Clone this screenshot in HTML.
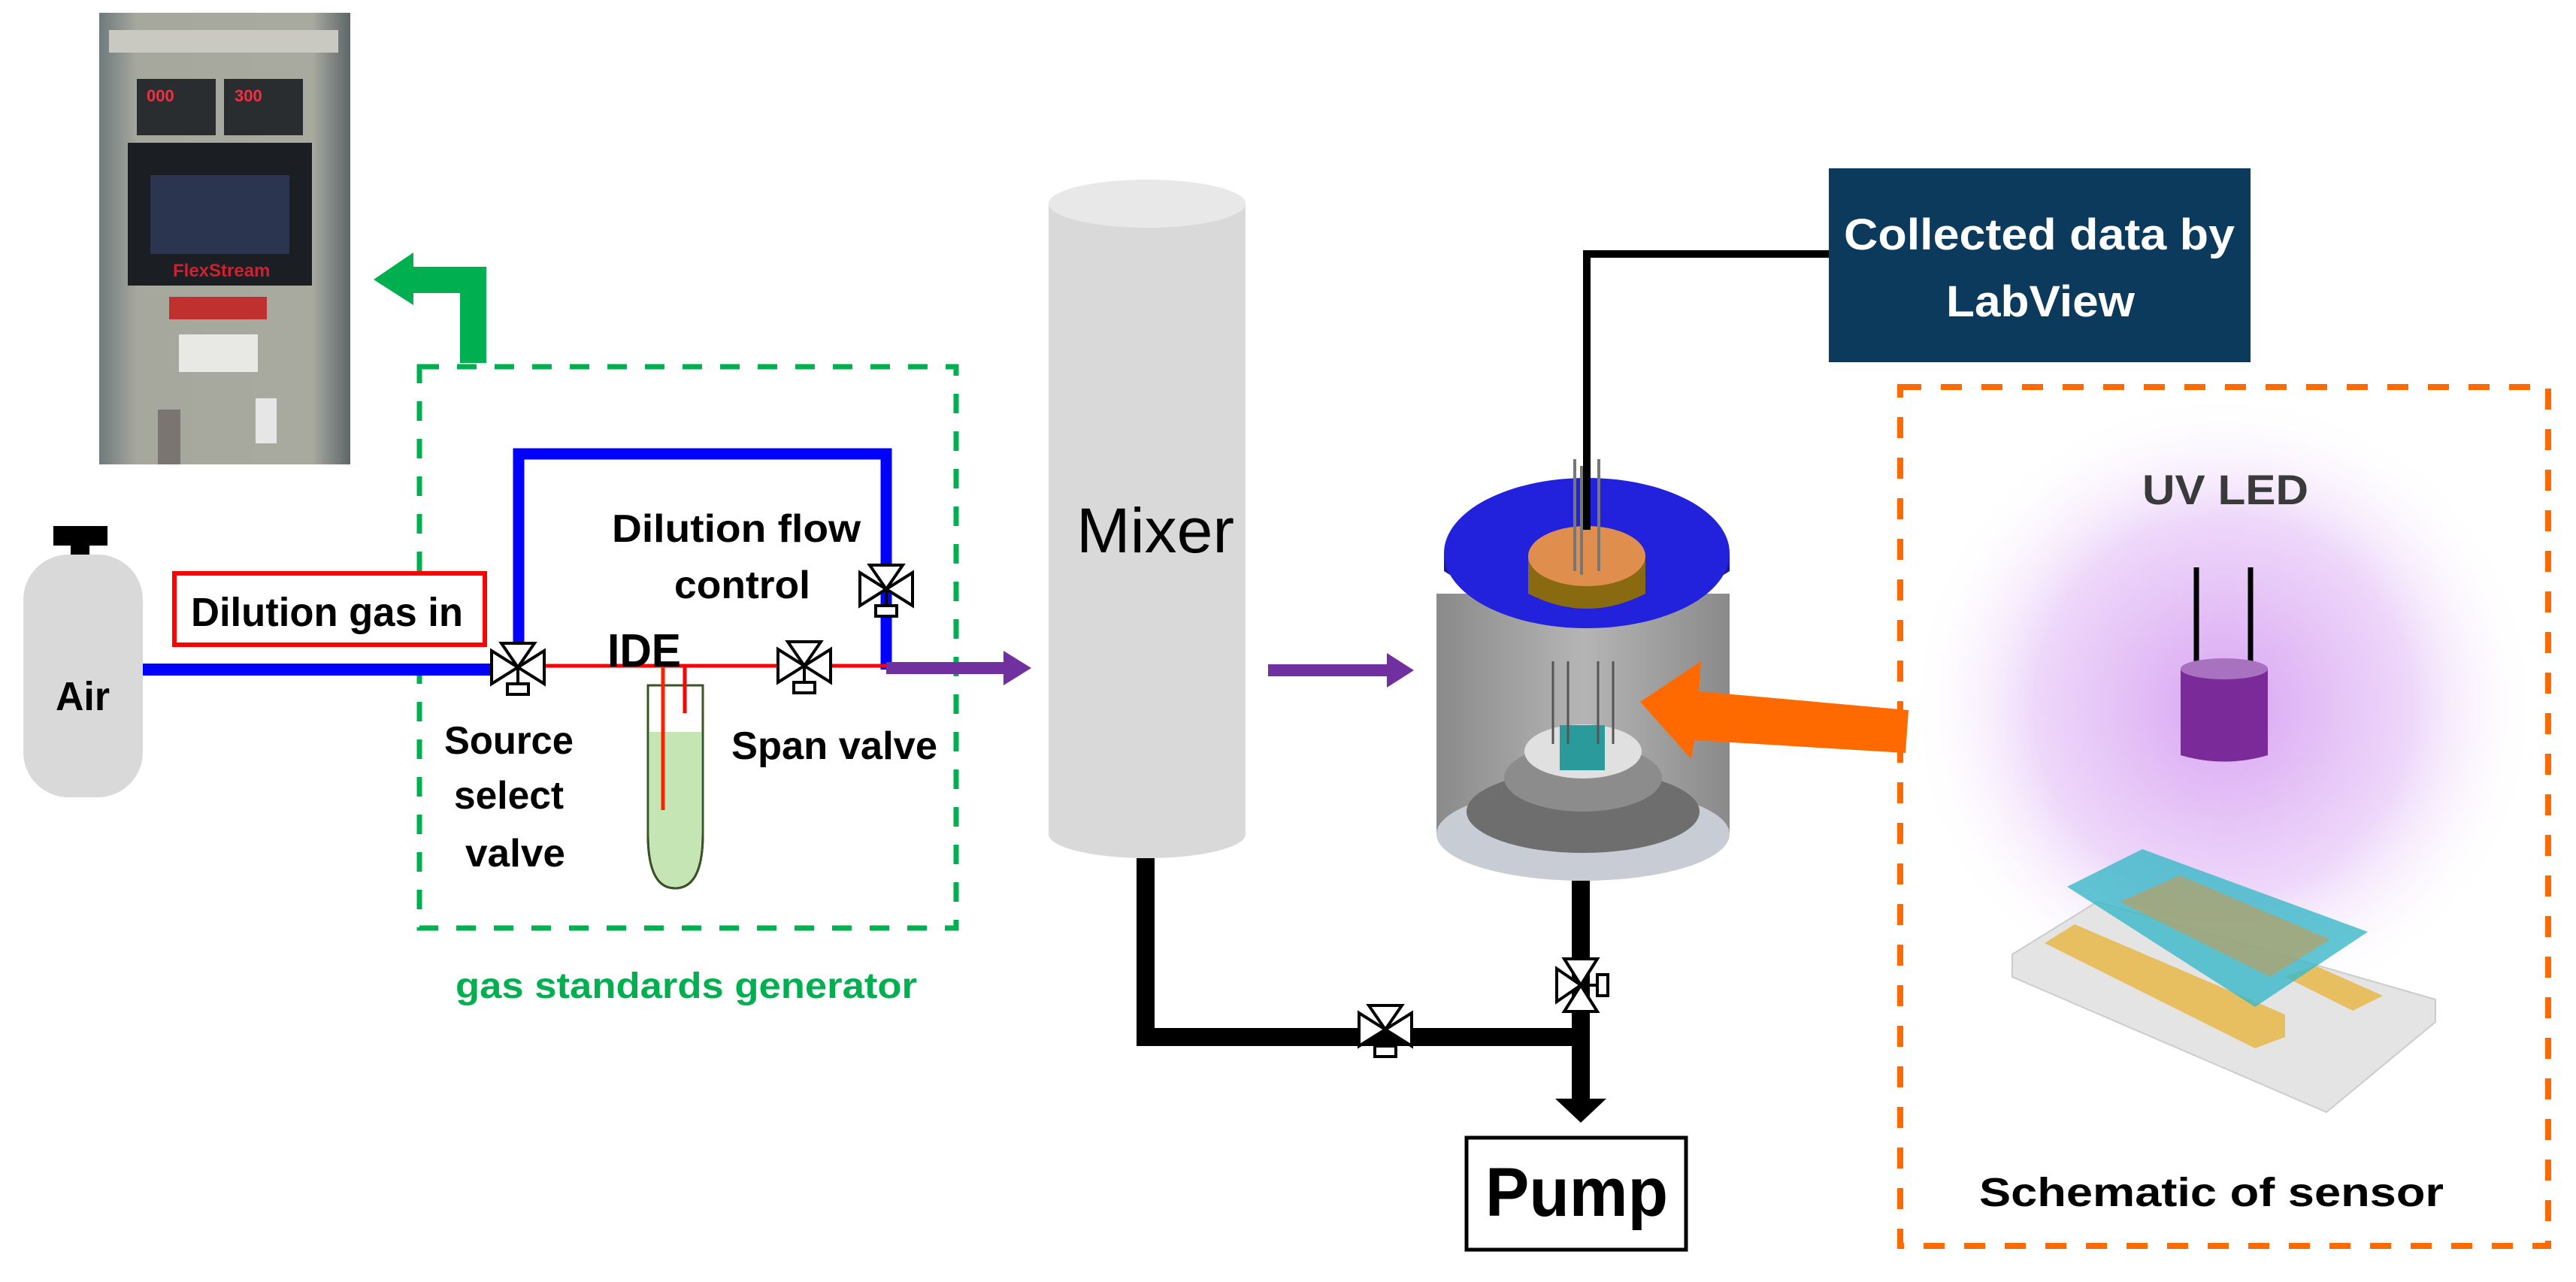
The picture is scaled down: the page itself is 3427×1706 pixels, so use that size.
<!DOCTYPE html>
<html><head><meta charset="utf-8"><style>html,body{margin:0;padding:0;background:#fff}svg{display:block}</style></head>
<body>
<svg width="3427" height="1706" viewBox="0 0 3427 1706" xmlns="http://www.w3.org/2000/svg" font-family="Liberation Sans, sans-serif" font-weight="bold">
<defs>
<radialGradient id="glow" cx="0.5" cy="0.5" r="0.5">
<stop offset="0" stop-color="#d9a6f2"/><stop offset="0.6" stop-color="#eed8fa"/><stop offset="1" stop-color="#fff" stop-opacity="0"/></radialGradient>
<linearGradient id="ph" x1="0" x2="1"><stop offset="0" stop-color="#6f7a7c"/><stop offset="0.15" stop-color="#a6a89e"/><stop offset="0.85" stop-color="#a8a99f"/><stop offset="1" stop-color="#5d6668"/></linearGradient>
<linearGradient id="glass" x1="0" x2="1"><stop offset="0" stop-color="#8a8a8a"/><stop offset="0.5" stop-color="#b5b5b5"/><stop offset="1" stop-color="#8a8a8a"/></linearGradient>
<g id="valve"><polygon points="-35,-22 -35,22 0,0" fill="#fff" stroke="#000" stroke-width="4"/><polygon points="35,-22 35,22 0,0" fill="#fff" stroke="#000" stroke-width="4"/><polygon points="-22,-32 22,-32 0,0" fill="#fff" stroke="#000" stroke-width="4"/><line x1="0" y1="0" x2="0" y2="22" stroke="#000" stroke-width="4"/><rect x="-14" y="22" width="28" height="14" fill="#fff" stroke="#000" stroke-width="4"/></g>
</defs>

<!-- photo -->
<rect x="132" y="17" width="334" height="601" fill="url(#ph)"/>
<rect x="145" y="40" width="305" height="30" fill="#c9c9c2"/>
<rect x="182" y="105" width="105" height="75" fill="#2a2d2f"/><rect x="298" y="105" width="105" height="75" fill="#2a2d2f"/>
<text x="195" y="135" font-size="22" fill="#f03040">000</text><text x="312" y="135" font-size="22" fill="#f03040">300</text>
<rect x="170" y="190" width="245" height="190" fill="#1b1e22"/>
<rect x="200" y="233" width="185" height="105" fill="#2b3550"/>
<text x="230" y="368" font-size="24" fill="#d02030">FlexStream</text>
<rect x="225" y="395" width="130" height="30" fill="#c0302f"/>
<rect x="238" y="445" width="105" height="50" fill="#e8e8e4"/>
<rect x="210" y="545" width="30" height="73" fill="#7a7570"/><rect x="340" y="530" width="28" height="60" fill="#e6e6e6"/>

<!-- green arrow -->
<polygon points="647,483 612,483 612,390 550,390 550,406 497,372 550,336 550,355 647,355" fill="#00b050"/>
<!-- green dashed box -->
<rect x="558" y="488" width="714" height="747" fill="none" stroke="#00b050" stroke-width="7" stroke-dasharray="26,24"/>
<text x="606" y="1328" font-size="48" fill="#00b050" textLength="614" lengthAdjust="spacingAndGlyphs">gas standards generator</text>

<!-- air tank -->
<rect x="71" y="700" width="72" height="26" fill="#000"/><rect x="94" y="720" width="25" height="36" fill="#000"/>
<rect x="31" y="738" width="159" height="323" rx="60" fill="#d9d9d9"/>
<text x="74" y="945" font-size="54" fill="#000" textLength="72" lengthAdjust="spacingAndGlyphs">Air</text>

<!-- pipes -->
<line x1="190" y1="891" x2="655" y2="891" stroke="#0000ff" stroke-width="16"/>
<polyline points="690,880 690,604 1179,604 1179,891" fill="none" stroke="#0000ff" stroke-width="15"/>
<line x1="690" y1="886" x2="1179" y2="886" stroke="#ff0000" stroke-width="5"/>
<line x1="882" y1="886" x2="882" y2="1078" stroke="#ff0000" stroke-width="5"/>
<line x1="911" y1="886" x2="911" y2="949" stroke="#ff0000" stroke-width="5"/>
<line x1="1179" y1="889" x2="1340" y2="889" stroke="#7030a0" stroke-width="16"/>
<polygon points="1335,866 1372,889 1335,912" fill="#7030a0"/>

<!-- red box -->
<rect x="232" y="763" width="413" height="95" fill="#fff" stroke="#ff0000" stroke-width="6"/>
<text x="254" y="833" font-size="54" fill="#000" textLength="362" lengthAdjust="spacingAndGlyphs">Dilution gas in</text>

<!-- tube -->
<path d="M862,912 L935,912 L935,1110 Q935,1182 898,1182 Q862,1182 862,1110 Z" fill="#fff" stroke="#000" stroke-width="3"/>
<path d="M864,974 L933,974 L933,1110 Q933,1180 898,1180 Q864,1180 864,1110 Z" fill="#c5e6b4"/>
<path d="M862,912 L935,912 L935,1110 Q935,1182 898,1182 Q862,1182 862,1110 Z" fill="none" stroke="#375623" stroke-width="3"/>
<line x1="882" y1="886" x2="882" y2="1078" stroke="#ff2000" stroke-width="5"/>
<line x1="911" y1="886" x2="911" y2="949" stroke="#ff0000" stroke-width="5"/>

<use href="#valve" x="689" y="888"/>
<use href="#valve" x="1070" y="886"/>
<use href="#valve" x="1179" y="784"/>

<text x="808" y="887" font-size="62" fill="#000" textLength="98" lengthAdjust="spacingAndGlyphs">IDE</text>
<text x="814" y="721" font-size="52" fill="#000" textLength="331" lengthAdjust="spacingAndGlyphs">Dilution flow</text>
<text x="897" y="796" font-size="52" fill="#000" textLength="181" lengthAdjust="spacingAndGlyphs">control</text>
<text x="591" y="1003" font-size="52" fill="#000" textLength="172" lengthAdjust="spacingAndGlyphs">Source</text>
<text x="604" y="1076" font-size="52" fill="#000" textLength="146" lengthAdjust="spacingAndGlyphs">select</text>
<text x="619" y="1153" font-size="52" fill="#000" textLength="133" lengthAdjust="spacingAndGlyphs">valve</text>
<text x="973" y="1010" font-size="52" fill="#000" textLength="274" lengthAdjust="spacingAndGlyphs">Span valve</text>

<!-- mixer -->
<rect x="1395" y="271" width="262" height="839" fill="#d9d9d9"/>
<ellipse cx="1526" cy="1110" rx="131" ry="32" fill="#d9d9d9"/>
<ellipse cx="1526" cy="271" rx="131" ry="32" fill="#e8e8e8"/>
<text x="1432" y="735" font-size="84" font-weight="normal" fill="#000" textLength="210" lengthAdjust="spacingAndGlyphs">Mixer</text>
<line x1="1687" y1="892" x2="1850" y2="892" stroke="#7030a0" stroke-width="16"/>
<polygon points="1845,869 1881,892 1845,915" fill="#7030a0"/>

<!-- black pipes -->
<polyline points="1524,1142 1524,1380 2103,1380" fill="none" stroke="#000" stroke-width="24"/>
<line x1="2103" y1="1172" x2="2103" y2="1470" stroke="#000" stroke-width="24"/>
<polygon points="2069,1462 2137,1462 2103,1494" fill="#000"/>
<use href="#valve" x="1843" y="1370"/>
<g transform="translate(2103,1311) rotate(-90)"><use href="#valve"/></g>

<!-- pump -->
<rect x="1951" y="1514" width="292" height="149" fill="#fff" stroke="#000" stroke-width="5"/>
<text x="1976" y="1618" font-size="92" fill="#000" textLength="243" lengthAdjust="spacingAndGlyphs">Pump</text>

<!-- chamber -->
<path d="M1911,790 L1911,1110 Q2106,1230 2301,1110 L2301,790 Z" fill="url(#glass)"/>
<ellipse cx="2106" cy="1110" rx="195" ry="62" fill="#c8ccd4"/>
<ellipse cx="2106" cy="1080" rx="155" ry="55" fill="#6e6e6e"/>
<ellipse cx="2106" cy="1035" rx="105" ry="45" fill="#8c8c8c"/>
<ellipse cx="2106" cy="1000" rx="78" ry="36" fill="#e0e0e0"/>
<rect x="2075" y="965" width="60" height="60" fill="#2a9a9a"/>
<g stroke="#555" stroke-width="3"><line x1="2066" y1="880" x2="2066" y2="990"/><line x1="2086" y1="880" x2="2086" y2="990"/><line x1="2126" y1="880" x2="2126" y2="990"/><line x1="2146" y1="880" x2="2146" y2="990"/></g>
<path d="M1921,736 L1921,760 Q2111,880 2301,760 L2301,736 Z" fill="#1a1a9a"/>
<ellipse cx="2111" cy="736" rx="190" ry="100" fill="#2222dd"/>
<path d="M2033,740 L2033,790 Q2111,830 2189,790 L2189,740 Z" fill="#8a6a10"/>
<ellipse cx="2111" cy="740" rx="78" ry="40" fill="#e08e4e"/>
<g stroke="#777" stroke-width="4"><line x1="2095" y1="611" x2="2095" y2="760"/><line x1="2127" y1="611" x2="2127" y2="760"/><line x1="2104" y1="620" x2="2104" y2="765"/></g>
<polyline points="2433,338 2111,338 2111,705" fill="none" stroke="#000" stroke-width="10"/>

<!-- labview -->
<rect x="2433" y="224" width="561" height="258" fill="#0b3a5c"/>
<text x="2453" y="332" font-size="58" fill="#fff" textLength="520" lengthAdjust="spacingAndGlyphs">Collected data by</text>
<text x="2589" y="421" font-size="58" fill="#fff" textLength="251" lengthAdjust="spacingAndGlyphs">LabView</text>

<!-- orange box -->
<circle cx="2958" cy="940" r="420" fill="url(#glow)"/>
<rect x="2528" y="515" width="862" height="1143" fill="none" stroke="#ff6a00" stroke-width="8" stroke-dasharray="28,26"/>
<polygon points="2539,945 2260,920 2263,880 2182,934 2250,1010 2254,985 2535,1002" fill="#ff6a00"/>
<text x="2850" y="671" font-size="56" fill="#3a3a3a" textLength="221" lengthAdjust="spacingAndGlyphs">UV LED</text>
<line x1="2922" y1="755" x2="2922" y2="890" stroke="#000" stroke-width="7"/>
<line x1="2994" y1="755" x2="2994" y2="890" stroke="#000" stroke-width="7"/>
<path d="M2901,890 L2901,1005 Q2959,1022 3017,1005 L3017,890 Z" fill="#7b2a9a"/>
<ellipse cx="2959" cy="890" rx="58" ry="14" fill="#a872c0"/>

<!-- sensor -->
<polygon points="2677,1270 2790,1200 3240,1330 3240,1360 3095,1480 2677,1300" fill="#e4e4e4" stroke="#ccc" stroke-width="2"/>
<polygon points="2720,1255 2760,1230 3040,1350 3040,1380 3000,1395" fill="#e7bf60"/>
<polygon points="3040,1300 3080,1285 3170,1325 3130,1345" fill="#e7bf60"/>
<polygon points="2750,1180 2850,1130 3150,1240 3000,1340" fill="#3ab8c8" opacity="0.8"/>
<polygon points="2820,1200 2900,1165 3100,1250 3020,1300" fill="#c89a50" opacity="0.6"/>
<text x="2633" y="1605" font-size="54" fill="#000" textLength="618" lengthAdjust="spacingAndGlyphs">Schematic of sensor</text>
</svg>
</body></html>
